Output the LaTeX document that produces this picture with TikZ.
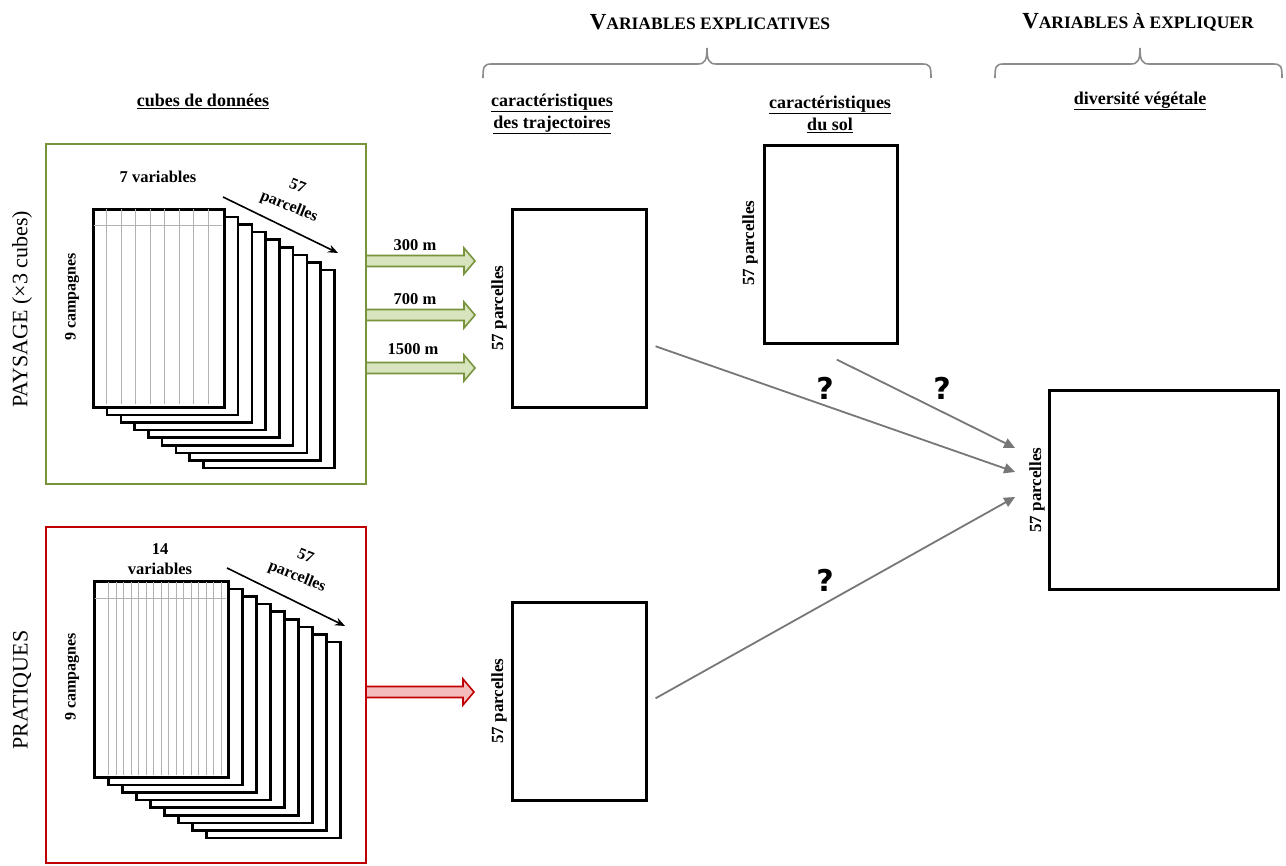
\documentclass[tikz,border=0pt]{standalone}
\usepackage{fontspec}
\setmainfont{Liberation Serif}
\newfontfamily\qfont{DejaVu Sans}
\usetikzlibrary{arrows.meta,calc}
\definecolor{pgreen}{HTML}{77933C}
\definecolor{lgreen}{HTML}{D7E4BD}
\definecolor{pred}{HTML}{C00000}
\definecolor{lred}{HTML}{F4BCBC}
\definecolor{agray}{HTML}{777777}
\definecolor{bgray}{HTML}{8C8C8C}
\tikzset{
  sheet/.style={draw=black, fill=white, line width=2.6pt, inner sep=0pt, anchor=north west},
  gridl/.style={draw=black!30, line width=1pt},
  databox/.style={draw=black, fill=white, line width=2.6pt, inner sep=0pt, anchor=north west},
  rotlab/.style={rotate=90, font=\bfseries\fontsize{17}{19}\selectfont, inner sep=0pt},
  camplab/.style={rotate=90, font=\bfseries\fontsize{16}{18}\selectfont, inner sep=0pt},
  sublab/.style={font=\bfseries\fontsize{18}{22}\selectfont, align=center, inner sep=0pt},
  lab/.style={font=\bfseries\fontsize{16.5}{20}\selectfont, inner sep=0pt, align=center},
  parclab/.style={rotate=-22, font=\bfseries\fontsize{16}{22}\selectfont, inner sep=0pt, align=center},
  sidelab/.style={rotate=90, font=\fontsize{22}{24}\selectfont, inner sep=0pt},
  qmark/.style={font=\qfont\bfseries\fontsize{30}{32}\selectfont, inner sep=0pt},
  rel/.style={draw=agray, line width=1.8pt, -{Triangle[length=11pt,width=10pt]}},
  brace/.style={draw=bgray, line width=1.6pt},
  fatg/.style={draw=pgreen, fill=lgreen, line width=1.6pt, line join=miter},
  fatr/.style={draw=pred, fill=lred, line width=1.6pt, line join=miter},
}
\newcommand\fatarrow[4]{% style, x1, x2, y
  \draw[#1] (#2,{#4-5.5}) -- ({#3-11},{#4-5.5}) -- ({#3-11},{#4-13}) -- (#3,#4)
    -- ({#3-11},{#4+13}) -- ({#3-11},{#4+5.5}) -- (#2,{#4+5.5}) -- cycle;}
\newcommand\sctitle[2]{{\bfseries\fontsize{23}{25}\selectfont #1}{\bfseries\fontsize{17.5}{25}\selectfont #2}}
\begin{document}
\begin{tikzpicture}[x=1pt,y=-1pt]
\useasboundingbox (0,0) rectangle (1286,866);

% ---------- headers ----------
\node[inner sep=0pt] (hexp) at (710,22) {\sctitle{V}{ARIABLES EXPLICATIVES}};
\node[inner sep=0pt] (hexq) at (1138,22) {\sctitle{V}{ARIABLES À EXPLIQUER}};
\draw[brace] (483,78) .. controls (483,66) and (484,64) .. (492,64) -- (698,64)
  .. controls (705,64) and (707,60) .. (707,48)
  .. controls (707,60) and (709,64) .. (716,64) -- (922,64)
  .. controls (930,64) and (931,66) .. (931,78);
\draw[brace] (995,78) .. controls (995,66) and (996,64) .. (1004,64) -- (1131,64)
  .. controls (1138,64) and (1140,60) .. (1140,48)
  .. controls (1140,60) and (1142,64) .. (1149,64) -- (1273,64)
  .. controls (1281,64) and (1282,66) .. (1282,78);

\node[sublab] (hcube) at (203,101) {\underline{cubes de données}};
\node[sublab] (htraj) at (552,114) {\underline{caractéristiques}\\\underline{des trajectoires}};
\node[sublab] (hsol) at (830,114) {\underline{caractéristiques}\\\underline{du sol}};
\node[sublab] (hdiv) at (1140,101) {\underline{diversité végétale}};

% ---------- frames ----------
\draw[pgreen, line width=2.6pt] (46,144) rectangle (366,484);
\draw[pred, line width=2.6pt] (46,527) rectangle (366,863);
\node[sidelab] (paysage) at (22,309) {PAYSAGE (×3 cubes)};
\node[sidelab] (pratiques) at (22,690) {PRATIQUES};

% ---------- green stack ----------
\foreach \i in {8,7,...,0} {
  \node[sheet, minimum width=131pt, minimum height=198pt] (gs\i) at ({92+13.75*\i},{208+7.6*\i}) {};
}
\foreach \k in {1,...,8} { \draw[gridl] ({92+\k*131/9},209.5) -- ({92+\k*131/9},404.5); }
\draw[gridl] (93.5,226) -- (221.5,226);
\node[lab] (g7var) at (158,177) {7 variables};
\node[camplab] (g9c) at (72,297) {9 campagnes};
\coordinate (ga1) at (223,197);
\coordinate (ga2) at (338,253);
\draw[line width=1.6pt, -{Stealth[length=10pt,width=8pt]}] (ga1) -- (ga2);
\node[parclab] (gparc) at (293,197) {57\\parcelles};

% ---------- red stack ----------
\foreach \i in {8,7,...,0} {
  \node[sheet, minimum width=134pt, minimum height=196pt] (rs\i) at ({93+14*\i},{580+7.6*\i}) {};
}
\foreach \k in {0,...,15} { \draw[gridl] ({108.7+\k*7.52},581.5) -- ({108.7+\k*7.52},774.5); }
\draw[gridl] (94.5,598) -- (225.5,598);
\node[lab] (rvar) at (160,559) {14\\variables};
\node[camplab] (r9c) at (72,677) {9 campagnes};
\coordinate (ra1) at (227,568);
\coordinate (ra2) at (345,626);
\draw[line width=1.6pt, -{Stealth[length=10pt,width=8pt]}] (ra1) -- (ra2);
\node[parclab] (rparc) at (301,567) {57\\parcelles};

% ---------- data boxes ----------
\node[databox, minimum width=134pt, minimum height=198pt] (traj1) at (511,208) {};
\node[databox, minimum width=134pt, minimum height=198pt] (traj2) at (511,601) {};
\node[databox, minimum width=133pt, minimum height=198pt] (sol) at (763,144) {};
\node[databox, minimum width=229pt, minimum height=199pt] (div) at (1048,389) {};
\node[rotlab] (t1lab) at (499,308) {57 parcelles};
\node[rotlab] (t2lab) at (499,701) {57 parcelles};
\node[rotlab] (slab) at (750,243) {57 parcelles};
\node[rotlab] (dlab) at (1037,490) {57 parcelles};

% ---------- fat arrows ----------
\fatarrow{fatg}{366}{475}{261}
\fatarrow{fatg}{366}{475}{315}
\fatarrow{fatg}{366}{475}{368}
\fatarrow{fatr}{366}{474}{692}
\node[lab] (d300) at (415,245) {300 m};
\node[lab] (d700) at (415,299) {700 m};
\node[lab] (d1500) at (413,349) {1500 m};

% ---------- relations ----------
\coordinate (s1) at ($(traj1.east)+(8,38)$);
\coordinate (s2) at ($(sol.south)+(6,15)$);
\coordinate (s3) at ($(traj2.east)+(8,-3)$);
\coordinate (e1) at ($(dlab.north)+(-14,-18)$);
\coordinate (e2) at ($(dlab.north)+(-14,-42)$);
\coordinate (e3) at ($(dlab.north)+(-14,7)$);
\draw[rel] (s1) -- (e1);
\draw[rel] (s2) -- (e2);
\draw[rel] (s3) -- (e3);
\node[qmark] (q1) at (825,388) {?};
\node[qmark] (q2) at (942,388) {?};
\node[qmark] (q3) at (825,580) {?};
\end{tikzpicture}
\end{document}
